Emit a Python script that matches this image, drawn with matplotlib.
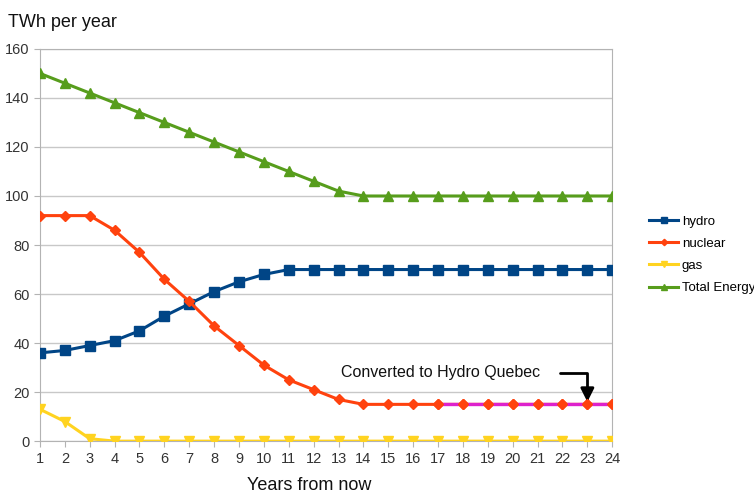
import matplotlib
matplotlib.use("Agg")
from matplotlib import pyplot as plt

plt.rcParams['font.family'] = ['Liberation Sans', 'DejaVu Sans']

years = list(range(1, 25))
hydro = [36, 37, 39, 41, 45, 51, 56, 61, 65, 68, 70, 70, 70, 70, 70, 70, 70, 70, 70, 70, 70, 70, 70, 70]
nuclear = [92, 92, 92, 86, 77, 66, 57, 47, 39, 31, 25, 21, 17, 15, 15, 15, 15, 15, 15, 15, 15, 15, 15, 15]
gas = [13, 8, 1, 0, 0, 0, 0, 0, 0, 0, 0, 0, 0, 0, 0, 0, 0, 0, 0, 0, 0, 0, 0, 0]
total = [150, 146, 142, 138, 134, 130, 126, 122, 118, 114, 110, 106, 102, 100,
         100, 100, 100, 100, 100, 100, 100, 100, 100, 100]
converted_from = 17  # year where nuclear output goes to Hydro Quebec

fig = plt.figure(figsize=(7.54, 4.94), dpi=100)
ax = fig.add_axes([0.053, 0.107, 0.759, 0.794])

ax.plot(years, hydro, color='#004586', marker='s', ms=7, lw=2.2, label='hydro', zorder=3)
ax.plot(years, nuclear, color='#ff420e', marker='D', ms=5, lw=2.2, label='nuclear', zorder=3)
i = years.index(converted_from)
ax.plot(years[i:], nuclear[i:], color='#dd22cc', lw=2.4, zorder=4)
ax.plot(years[i:], nuclear[i:], color='#ff420e', marker='D', ms=5, lw=0, zorder=5)
ax.plot(years, gas, color='#ffd320', marker='v', ms=7, lw=2.2, label='gas', zorder=3)
ax.plot(years, total, color='#579d1c', marker='^', ms=7, lw=2.2, label='Total Energy', zorder=3)

ax.set_xlim(1, 24)
ax.set_ylim(0, 160)
ax.set_xticks(years)
ax.set_yticks(range(0, 161, 20))
ax.grid(axis='y', color='#c8c8c8', lw=1)
ax.set_axisbelow(True)
for s in ax.spines.values():
    s.set_color('#b3b3b3')
ax.tick_params(colors='#b3b3b3', labelcolor='#333333', labelsize=10.5, length=4)

fig.text(0.011, 0.955, 'TWh per year', fontsize=13, color='#111111', va='center')
fig.text(0.41, 0.0, 'Years from now', fontsize=13, color='#111111', ha='center', va='bottom')

ax.text(13.1, 28, 'Converted to Hydro Quebec', fontsize=11.5, color='#111111', va='center')
ax.annotate('', xy=(23, 16), xytext=(21.9, 28),
            arrowprops=dict(arrowstyle='-|>', color='black', lw=2, mutation_scale=20,
                            connectionstyle='angle,angleA=0,angleB=90,rad=0',
                            shrinkA=0, shrinkB=0))

ax.legend(loc='center left', bbox_to_anchor=(1.055, 0.475), frameon=False, fontsize=9.5,
          handlelength=2.2, handletextpad=0.3, labelspacing=0.75, borderaxespad=0,
          markerscale=0.65)

fig.savefig('out.png', dpi=100)
